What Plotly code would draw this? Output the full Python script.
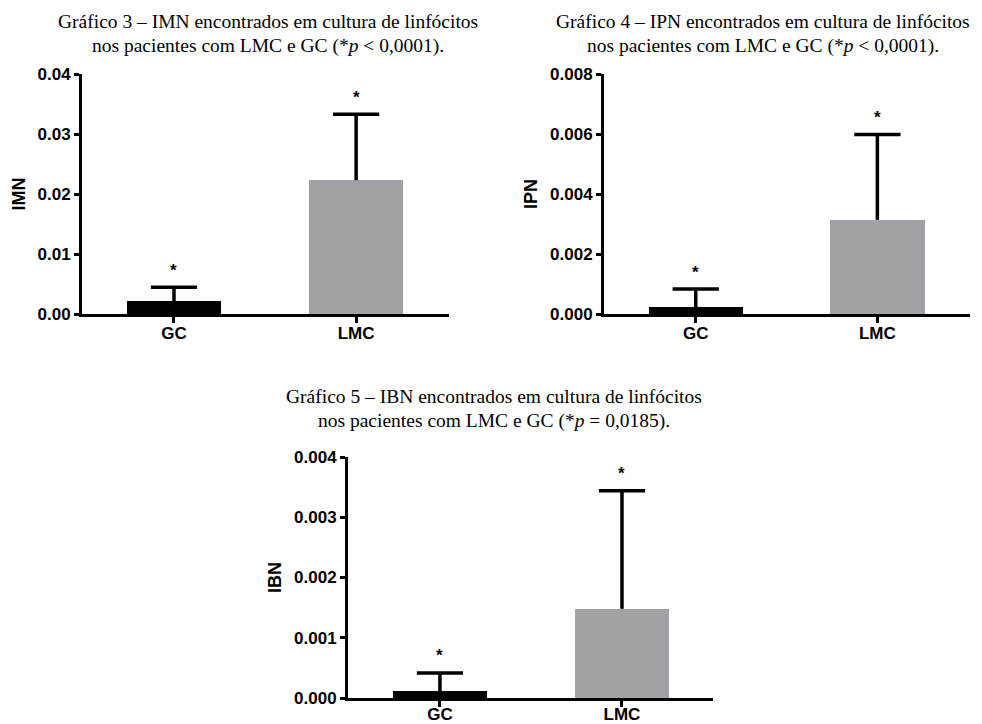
import plotly.graph_objects as go

categories = ["GC", "LMC"]
xpos = [0, 1]

imn_mean = [0.00217, 0.0223]
imn_sd = [0.00228, 0.0110]

ipn_mean = [0.00023, 0.00314]
ipn_sd = [0.00060, 0.00284]

ibn_mean = [0.000116, 0.00148]
ibn_sd = [0.000300, 0.00196]

titles = [
    ("Gráfico 3 – IMN encontrados em cultura de linfócitos",
     "nos pacientes com LMC e GC (*<i>p</i> < 0,0001)."),
    ("Gráfico 4 – IPN encontrados em cultura de linfócitos",
     "nos pacientes com LMC e GC (*<i>p</i> < 0,0001)."),
    ("Gráfico 5 – IBN encontrados em cultura de linfócitos",
     "nos pacientes com LMC e GC (*<i>p</i> = 0,0185)."),
]
ylabels = ["IMN", "IPN", "IBN"]
yranges = [(0, 0.04), (0, 0.008), (0, 0.004)]
ydtick = [0.01, 0.002, 0.001]
yformat = [".2f", ".3f", ".3f"]

W, H = 982, 724
# plot areas in pixels (left, right, top, bottom)
areas = [(82, 449, 74, 314), (604, 970, 74, 314), (348, 713, 457, 698)]
xranges = [(-0.505, 1.51), (-0.505, 1.51), (-0.505, 1.5)]
xlabel_standoff = [-4, -4, -7]
title_pos = [(268, 21, 46), (763, 21, 46), (494, 396, 421)]

bar_colors = ["#000000", "#a2a2a6"]
SANS = "Liberation Sans"
SERIF = "Liberation Serif"

fig = go.Figure()
annotations = []
datasets = [(imn_mean, imn_sd), (ipn_mean, ipn_sd), (ibn_mean, ibn_sd)]

for i, (means, sds) in enumerate(datasets):
    sfx = "" if i == 0 else str(i + 1)
    xa, ya = "x" + sfx, "y" + sfx
    fig.add_trace(go.Bar(
        x=xpos, y=means, width=0.52, marker=dict(color=bar_colors, line=dict(width=0)),
        xaxis=xa, yaxis=ya, showlegend=False,
    ))
    tops = [m + s for m, s in zip(means, sds)]
    fig.add_trace(go.Scatter(
        x=xpos, y=tops, mode="markers", xaxis=xa, yaxis=ya, showlegend=False,
        marker=dict(symbol="line-ew", size=33, color="black",
                    line=dict(color="black", width=3.5)),
        error_y=dict(type="data", symmetric=False, array=[0, 0], arrayminus=sds,
                     width=0, thickness=3.5, color="black"),
    ))
    for xp, t in zip(xpos, tops):
        annotations.append(dict(
            x=xp, y=t, xref=xa, yref=ya, text="*", showarrow=False,
            yanchor="middle", yshift=17,
            font=dict(family=SANS, size=17, color="black", weight="bold"),
        ))
    l, r, t_, b = areas[i]
    axis_common = dict(showgrid=False, zeroline=False, showline=True,
                       linecolor="black", linewidth=3, ticks="outside",
                       tickwidth=3, tickcolor="black", automargin=False)
    fig.layout["xaxis" + sfx] = dict(
        domain=[l / W, r / W], range=list(xranges[i]), anchor=ya,
        tickvals=xpos, ticktext=categories, ticklen=6,
        ticklabelstandoff=xlabel_standoff[i],
        tickfont=dict(family=SANS, size=17, color="black", weight="bold"),
        **axis_common)
    fig.layout["yaxis" + sfx] = dict(
        domain=[1 - b / H, 1 - t_ / H], range=list(yranges[i]), anchor=xa,
        dtick=ydtick[i], tick0=0, tickformat=yformat[i], ticklen=5,
        tickfont=dict(family=SANS, size=17, color="black", weight="bold"),
        title=dict(text=ylabels[i], standoff=8,
                   font=dict(family=SANS, size=18, color="black", weight="bold")),
        **axis_common)
    cx, y1, y2 = title_pos[i]
    for txt, yy in zip(titles[i], (y1, y2)):
        annotations.append(dict(
            x=cx / W, y=1 - yy / H, xref="paper", yref="paper", text=txt,
            showarrow=False, xanchor="center", yanchor="middle",
            font=dict(family=SERIF, size=19.5, color="black"),
        ))

fig.update_layout(
    width=W, height=H, margin=dict(l=0, r=0, t=0, b=0, autoexpand=False),
    paper_bgcolor="white", plot_bgcolor="white",
    annotations=annotations, bargap=0,
)
fig.write_html("out.html")
